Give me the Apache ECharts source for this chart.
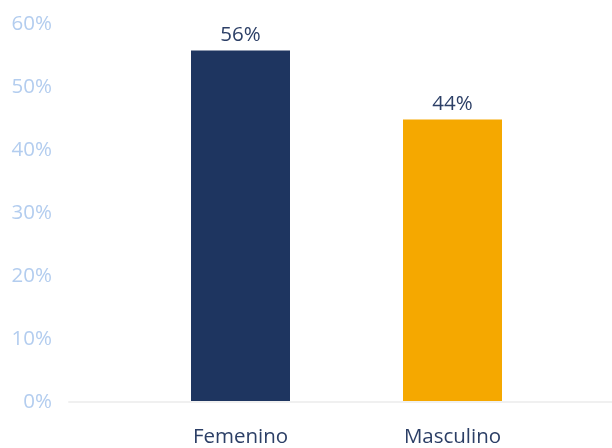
<!DOCTYPE html>
<html>
<head>
<meta charset="utf-8">
<script src="https://cdn.jsdelivr.net/npm/echarts@6/dist/echarts.min.js"></script>
<style>
  html, body { margin: 0; padding: 0; background: #fff; }
  #chart { width: 612px; height: 448px; }
</style>
</head>
<body>
<div id="chart"></div>
<script>
// categorías y valores (%)
var categories = ['Femenino', 'Masculino'];
var values = [55.8, 44.8];
var valueLabels = ['56%', '44%'];
var barColors = ['#1e3560', '#f5a800'];

var yMin = 0, yMax = 60, yStep = 10;

var chart = echarts.init(document.getElementById('chart'));

var option = {
    animation: false,
    textStyle: { fontFamily: 'Open Sans' },
    grid: [
        // barras
        { left: 134.5, right: 53.5, top: 24, bottom: 46 },
        // línea base y etiquetas del eje Y
        { left: 69, right: 0, top: 24, bottom: 46 }
    ],
    xAxis: [{
        gridIndex: 0,
        type: 'category',
        data: categories,
        axisLine: { show: false },
        axisTick: { show: false },
        axisLabel: { color: '#2c3f66', fontSize: 20.5, margin: 26 }
    }, {
        gridIndex: 1,
        type: 'value',
        min: 0, max: 1,
        axisLine: { show: true, lineStyle: { color: '#f0f0f0', width: 2 } },
        axisTick: { show: false },
        axisLabel: { show: false },
        splitLine: { show: false }
    }],
    yAxis: [{
        gridIndex: 0,
        type: 'value',
        min: yMin, max: yMax, interval: yStep,
        show: false
    }, {
        gridIndex: 1,
        type: 'value',
        min: yMin, max: yMax, interval: yStep,
        axisLine: { show: false },
        axisTick: { show: false },
        splitLine: { show: false },
        axisLabel: {
            color: '#b3cdef', fontSize: 20.5, margin: 17,
            formatter: '{value}%'
        }
    }],
    series: [{
        type: 'bar',
        xAxisIndex: 0,
        yAxisIndex: 0,
        barWidth: 99,
        data: values.map(function (v, i) {
            return { value: v, itemStyle: { color: barColors[i] } };
        }),
        label: {
            show: true,
            position: 'top',
            distance: 5,
            color: '#2c3f66',
            fontSize: 20.5,
            formatter: function (p) { return valueLabels[p.dataIndex]; }
        }
    }]
};

chart.setOption(option);
</script>
</body>
</html>
